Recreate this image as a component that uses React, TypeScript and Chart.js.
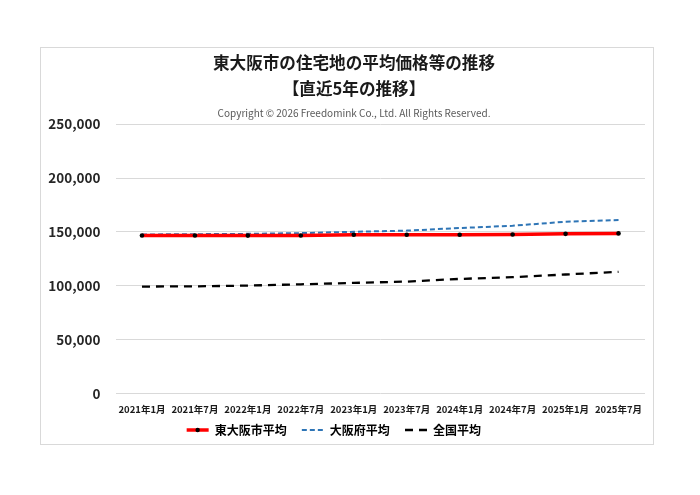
import React, { useEffect, useRef } from "react";
import { Chart, registerables } from "chart.js";

Chart.register(...registerables);

const categories = [
  "2021年1月", "2021年7月", "2022年1月", "2022年7月", "2023年1月",
  "2023年7月", "2024年1月", "2024年7月", "2025年1月", "2025年7月",
];
const higashiOsaka = [146700, 146700, 146600, 146700, 147300, 147300, 147300, 147600, 148200, 148600];
const osakaFu = [147600, 147900, 148200, 148900, 150100, 151200, 153600, 155700, 159500, 161000];
const national = [99300, 99500, 100200, 101400, 102700, 103900, 106400, 108000, 110500, 113000];
const seriesNames = ["東大阪市平均", "大阪府平均", "全国平均"];
const yTicks = [0, 50000, 100000, 150000, 200000, 250000];

const FONT = "'Noto Sans CJK JP', 'Noto Sans', sans-serif";
const LEGEND_FONT_SIZE = 12;
const LEGEND_BOX = 22;
const TITLE_SHIFT = 11;
const LEGEND_SHIFT = -1;

const shiftPlugin = {
  id: "shiftBlocks",
  afterLayout(chart: any) {
    chart.boxes.forEach((b: any) => {
      if (b !== chart.legend && b.options && b.options.text !== undefined && !b.axis) {
        b.left += TITLE_SHIFT;
        b.right += TITLE_SHIFT;
      }
    });
    if (chart.legend) {
      chart.legend.left += LEGEND_SHIFT;
      chart.legend.right += LEGEND_SHIFT;
    }
  },
};

const legendDotPlugin = {
  id: "legendDot",
  afterDraw(chart: any) {
    const legend = chart.legend;
    if (!legend || !legend.legendHitBoxes || !legend.legendHitBoxes[0]) return;
    const hb = legend.legendHitBoxes[0];
    const ctx = chart.ctx;
    ctx.save();
    ctx.fillStyle = "#000";
    ctx.beginPath();
    ctx.arc(hb.left + LEGEND_BOX / 2, hb.top + LEGEND_FONT_SIZE / 2, 2.2, 0, Math.PI * 2);
    ctx.fill();
    ctx.restore();
  },
};

export default function App() {
  const ref = useRef<HTMLCanvasElement>(null);
  useEffect(() => {
    if (!ref.current) return;
    const chart = new Chart(ref.current, {
      type: "line",
      data: {
        labels: categories,
        datasets: [
          {
            label: seriesNames[0],
            data: higashiOsaka,
            borderColor: "#ff0000",
            backgroundColor: "#ff0000",
            borderWidth: 3.5,
            pointRadius: 2.3,
            pointBackgroundColor: "#000",
            pointBorderColor: "#000",
            pointBorderWidth: 0,
            tension: 0,
          },
          {
            label: seriesNames[1],
            data: osakaFu,
            borderColor: "#2e75b6",
            backgroundColor: "#2e75b6",
            borderWidth: 2,
            borderDash: [5, 3],
            pointRadius: 0,
            tension: 0,
          },
          {
            label: seriesNames[2],
            data: national,
            borderColor: "#000000",
            backgroundColor: "#000000",
            borderWidth: 2.3,
            borderDash: [8, 6],
            pointRadius: 0,
            tension: 0,
          },
        ],
      },
      options: {
        responsive: false,
        animation: false,
        layout: { padding: { left: 0, right: 8, top: 0, bottom: -2 } },
        plugins: {
          title: {
            display: true,
            text: ["東大阪市の住宅地の平均価格等の推移", "【直近5年の推移】"],
            color: "#1a1a1a",
            font: { family: FONT, size: 16.6, weight: "bold", lineHeight: 1.57 },
            padding: { top: 2, bottom: 5 },
          },
          subtitle: {
            display: true,
            text: "Copyright © 2026 Freedomink Co., Ltd. All Rights Reserved.",
            color: "#595959",
            font: { family: FONT, size: 10, weight: "normal" },
            padding: { top: 0, bottom: 5 },
          },
          legend: {
            display: true,
            position: "bottom",
            labels: {
              usePointStyle: true,
              pointStyle: "line",
              pointStyleWidth: LEGEND_BOX,
              color: "#1a1a1a",
              font: { family: FONT, size: LEGEND_FONT_SIZE, weight: "bold" },
              padding: 7,
              generateLabels: (ch: any) =>
                ch.data.datasets.map((ds: any, i: number) => ({
                  text: i < ch.data.datasets.length - 1 ? ds.label + "   " : ds.label + "      ",
                  fillStyle: ds.borderColor,
                  strokeStyle: ds.borderColor,
                  lineWidth: ds.borderWidth,
                  lineDash: ds.borderDash || [],
                  pointStyle: "line",
                  hidden: false,
                  datasetIndex: i,
                })),
            },
          },
          tooltip: { enabled: false },
        },
        scales: {
          x: {
            type: "category",
            offset: true,
            grid: { display: false },
            border: { display: false },
            ticks: {
              color: "#1a1a1a",
              font: { family: FONT, size: 9.5, weight: "bold" },
              padding: 2,
              maxRotation: 0,
              autoSkip: false,
            },
          },
          y: {
            min: 0,
            max: 250000,
            afterBuildTicks: (axis: any) => {
              axis.ticks = yTicks.map((v) => ({ value: v }));
            },
            afterFit: (axis: any) => {
              axis.width = 74.5;
            },
            grid: { color: "#d9d9d9", drawTicks: false, lineWidth: 1 },
            border: { display: false },
            ticks: {
              color: "#262626",
              font: { family: FONT, size: 13.5, weight: "bold" },
              padding: 15,
              callback: (v: any) => Number(v).toLocaleString("en-US"),
            },
          },
        },
      },
      plugins: [shiftPlugin, legendDotPlugin],
    } as any);
    return () => chart.destroy();
  }, []);
  return (
    <div
      style={{
        position: "absolute",
        left: 40,
        top: 47,
        width: 612,
        height: 396,
        border: "1px solid #d9d9d9",
        background: "#fff",
      }}
    >
      <canvas ref={ref} width={612} height={396} style={{ display: "block" }} />
    </div>
  );
}
